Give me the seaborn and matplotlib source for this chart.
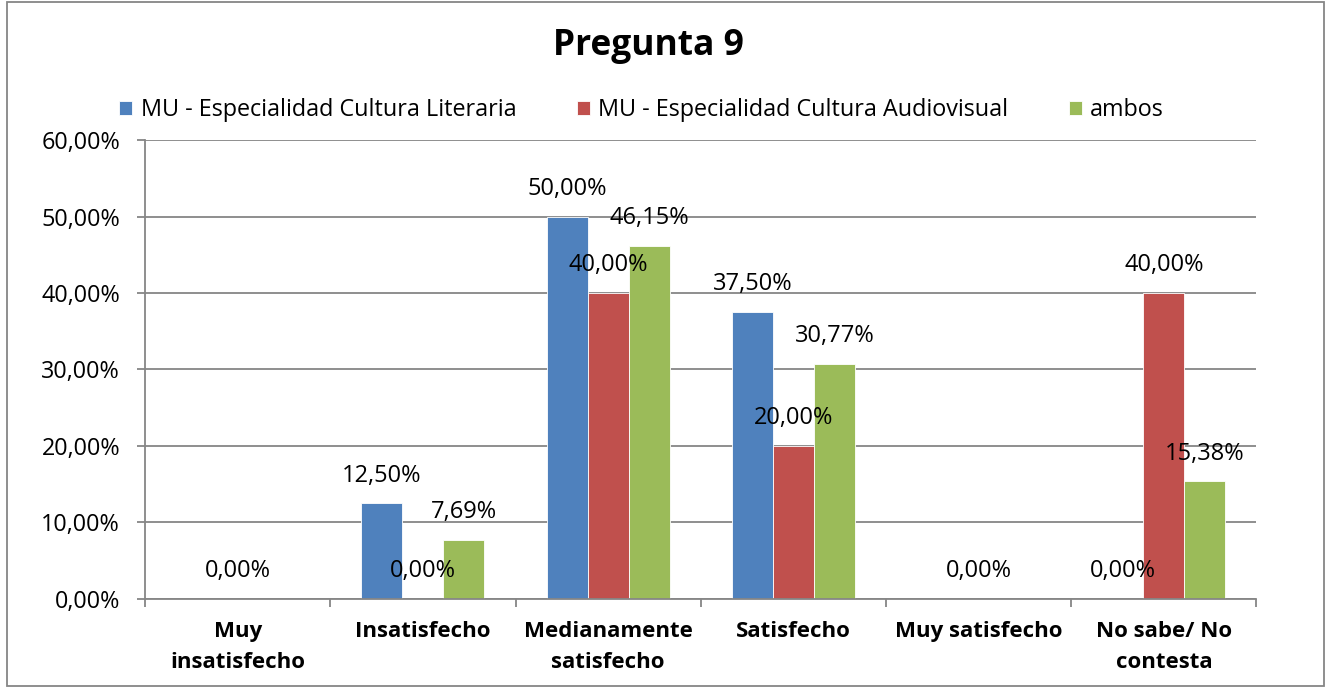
import matplotlib
matplotlib.use("Agg")
import matplotlib.pyplot as plt
import matplotlib.patches as mpatches
from matplotlib.ticker import FuncFormatter, FixedLocator
import seaborn as sns
import pandas as pd

categories = ["Muy\ninsatisfecho", "Insatisfecho", "Medianamente\nsatisfecho",
              "Satisfecho", "Muy satisfecho", "No sabe/ No\ncontesta"]
series_names = ["MU - Especialidad Cultura Literaria",
                "MU - Especialidad Cultura Audiovisual", "ambos"]
literaria = [0.0, 12.50, 50.00, 37.50, 0.0, 0.0]
audiovisual = [0.0, 0.0, 40.00, 20.00, 0.0, 40.00]
ambos = [0.0, 7.69, 46.15, 30.77, 0.0, 15.38]
# which data labels are visible in the reference
show_literaria = [False, True, True, True, False, True]
show_audiovisual = [True, True, True, True, True, True]
show_ambos = [False, True, True, True, False, True]
colors = ["#4F81BD", "#C0504D", "#9BBB59"]
title = "Pregunta 9"

rows = []
for name, vals in zip(series_names, [literaria, audiovisual, ambos]):
    for c, v in zip(categories, vals):
        rows.append({"cat": c, "serie": name, "valor": v})
df = pd.DataFrame(rows)

sns.set_theme(style="white")
plt.rcParams["font.family"] = ["Open Sans", "DejaVu Sans"]
plt.rcParams["text.color"] = "black"

fig = plt.figure(figsize=(13.31, 6.88), dpi=100)
ax = fig.add_axes([0.109, 0.1294, 0.835, 0.6671])

sns.barplot(data=df, x="cat", y="valor", hue="serie", order=categories,
            hue_order=series_names, palette=colors, width=0.664,
            saturation=1, edgecolor="white", linewidth=0.6, ax=ax, legend=True)

ax.set_ylim(0, 60)
ax.set_xlim(-0.5, len(categories) - 0.5)
ax.set_yticks(range(0, 61, 10))
ax.yaxis.set_major_formatter(FuncFormatter(lambda v, p: f"{v:.2f}%".replace(".", ",")))
ax.grid(axis="y", color="#868686", linewidth=1.3)
ax.set_axisbelow(True)
ax.set_xlabel("")
ax.set_ylabel("")

for side in ["top", "right"]:
    ax.spines[side].set_visible(False)
for side in ["left", "bottom"]:
    ax.spines[side].set_color("#868686")
    ax.spines[side].set_linewidth(1.3)

ax.tick_params(axis="y", which="major", length=6, width=1.3, color="#868686",
               labelsize=16.8, pad=12, labelcolor="black", left=True)
ax.tick_params(axis="x", which="major", length=0, pad=16, labelsize=16, labelcolor="black")
ax.xaxis.set_minor_locator(FixedLocator([i - 0.5 for i in range(len(categories) + 1)]))
ax.tick_params(axis="x", which="minor", length=6, width=1.3, color="#868686", bottom=True)
for lbl in ax.get_xticklabels():
    lbl.set_fontweight("bold")
    lbl.set_linespacing(1.6)

shows = [show_literaria, show_audiovisual, show_ambos]
for cont, show in zip(ax.containers, shows):
    for bar, s in zip(cont, show):
        if not s:
            continue
        h = bar.get_height()
        ax.annotate(f"{h:.2f}%".replace(".", ","),
                    (bar.get_x() + bar.get_width() / 2, h),
                    xytext=(0, 20), textcoords="offset points",
                    ha="center", va="center", fontsize=17, color="black")

handles, labels = ax.get_legend_handles_labels()
ax.get_legend().remove()
fig.legend(handles, labels, loc="center", bbox_to_anchor=(0.482, 0.84), ncol=3,
           frameon=False, fontsize=16.8, handlelength=0.56, handleheight=0.56,
           handletextpad=0.35, columnspacing=2.6, borderaxespad=0,
           labelcolor="black")

fig.text(0.487, 0.933, title, ha="center", va="center", fontsize=25.5,
         fontweight="bold", color="black")

fig.patches.append(mpatches.Rectangle((0.005, 0.003), 0.99, 0.994, transform=fig.transFigure,
                                      fill=False, edgecolor="#868686", linewidth=1.3))

fig.savefig("out.png", dpi=100)
